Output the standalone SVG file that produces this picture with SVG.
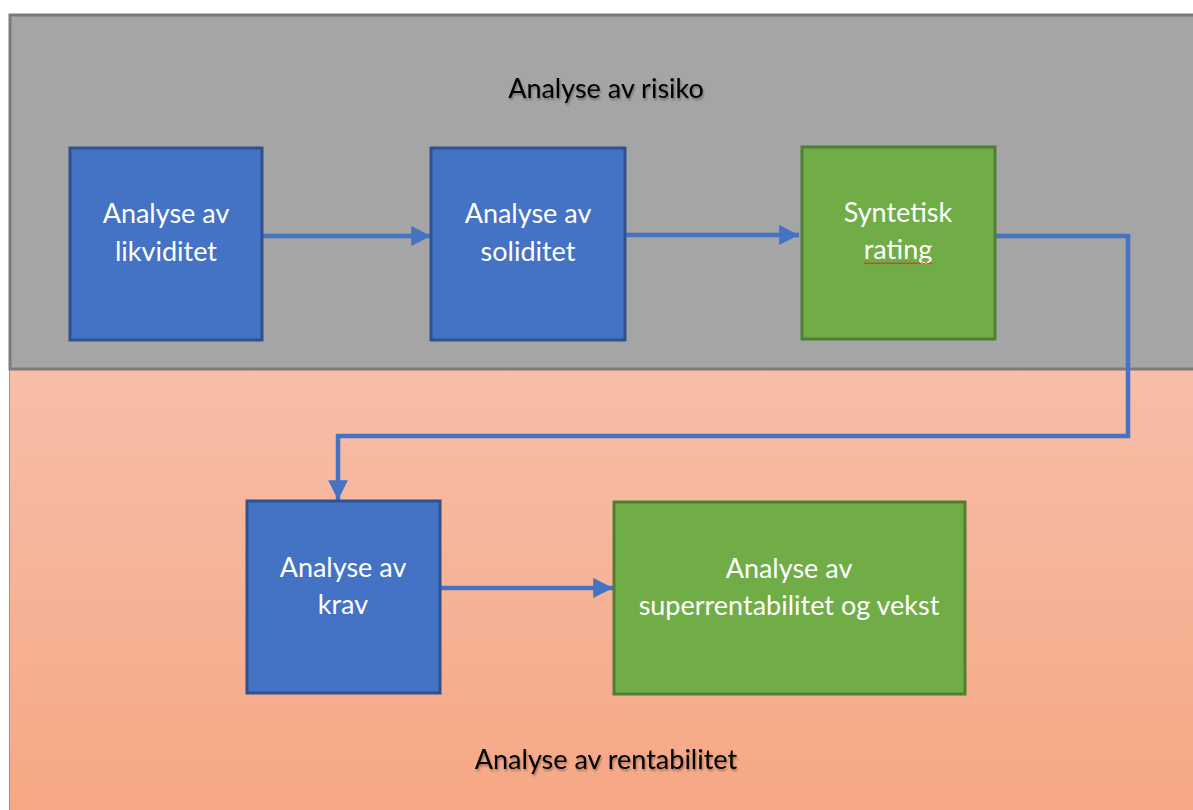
<svg xmlns="http://www.w3.org/2000/svg" width="1193" height="810" viewBox="0 0 1193 810">
  <defs>
    <linearGradient id="peach" x1="0" y1="0" x2="0" y2="1">
      <stop offset="0" stop-color="#f7bea8"/>
      <stop offset="1" stop-color="#f6a784"/>
    </linearGradient>
    <filter id="soft" x="-10%" y="-40%" width="120%" height="180%">
      <feDropShadow dx="1" dy="2" stdDeviation="1.2" flood-color="#000" flood-opacity="0.35"/>
    </filter>
    <marker id="head" viewBox="0 0 10 10" refX="10" refY="5" markerWidth="4.4" markerHeight="4.4" markerUnits="strokeWidth" orient="auto">
      <path d="M0,0 L10,5 L0,10 Z" fill="#4472c4"/>
    </marker>
    <style>
      .blue { fill: #4472c4; stroke: #2f528f; stroke-width: 3; }
      .green { fill: #70ad47; stroke: #507e32; stroke-width: 3; }
      .lbl { font-family: Lato, "Liberation Sans", sans-serif; font-size: 27px; fill: #ffffff; text-anchor: middle; }
      .zone { font-family: Lato, "Liberation Sans", sans-serif; font-size: 27px; fill: #000000; text-anchor: middle; }
      .wire { fill: none; stroke: #4472c4; stroke-width: 4.5; }
    </style>
  </defs>

  <rect x="0" y="0" width="1193" height="810" fill="#ffffff"/>

  <!-- lower zone -->
  <g id="zone-rentabilitet">
    <rect x="9" y="369" width="1190" height="450" fill="url(#peach)"/>
    <line x1="9.5" y1="369" x2="9.5" y2="810" stroke="#ed7d31" stroke-width="1"/>
    <text class="zone" x="606" y="769" filter="url(#soft)">Analyse av rentabilitet</text>
  </g>

  <!-- upper zone -->
  <g id="zone-risiko">
    <rect x="10" y="15" width="1190" height="354" fill="#a5a5a5" stroke="#7b7b7b" stroke-width="3"/>
    <text class="zone" x="606" y="98" filter="url(#soft)">Analyse av risiko</text>
  </g>

  <!-- connectors -->
  <g id="connectors">
    <line class="wire" x1="262" y1="236" x2="431" y2="236" marker-end="url(#head)"/>
    <line class="wire" x1="625" y1="235" x2="799" y2="235" marker-end="url(#head)"/>
    <polyline class="wire" points="995,236 1128,236 1128,436 338,436 338,500" marker-end="url(#head)"/>
    <line class="wire" x1="440" y1="588" x2="613" y2="588" marker-end="url(#head)"/>
  </g>

  <g id="likviditet">
    <rect class="blue" x="70" y="148" width="192" height="192"/>
    <text class="lbl" x="166" y="223">Analyse av</text>
    <text class="lbl" x="166" y="261">likviditet</text>
  </g>

  <g id="soliditet">
    <rect class="blue" x="431" y="148" width="194" height="192"/>
    <text class="lbl" x="528" y="223">Analyse av</text>
    <text class="lbl" x="528" y="261">soliditet</text>
  </g>

  <g id="syntetisk-rating">
    <rect class="green" x="802" y="147" width="193" height="192"/>
    <text class="lbl" x="898" y="222">Syntetisk</text>
    <text class="lbl" x="898" y="259">rating</text>
    <path d="M864,264 l2,-1.5 l2,1.5 l2,-1.5 l2,1.5 l2,-1.5 l2,1.5 l2,-1.5 l2,1.5 l2,-1.5 l2,1.5 l2,-1.5 l2,1.5 l2,-1.5 l2,1.5 l2,-1.5 l2,1.5 l2,-1.5 l2,1.5 l2,-1.5 l2,1.5 l2,-1.5 l2,1.5 l2,-1.5 l2,1.5 l2,-1.5 l2,1.5 l2,-1.5 l2,1.5 l2,-1.5 l2,1.5 l2,-1.5 l2,1.5 l2,-1.5 l2,1.5" fill="none" stroke="#e02020" stroke-width="1"/>
  </g>

  <g id="krav">
    <rect class="blue" x="247" y="501" width="193" height="192"/>
    <text class="lbl" x="343" y="577">Analyse av</text>
    <text class="lbl" x="343" y="614">krav</text>
  </g>

  <g id="superrentabilitet">
    <rect class="green" x="614" y="502" width="351" height="192"/>
    <text class="lbl" x="789" y="578">Analyse av</text>
    <text class="lbl" x="789" y="615">superrentabilitet og vekst</text>
  </g>
</svg>
